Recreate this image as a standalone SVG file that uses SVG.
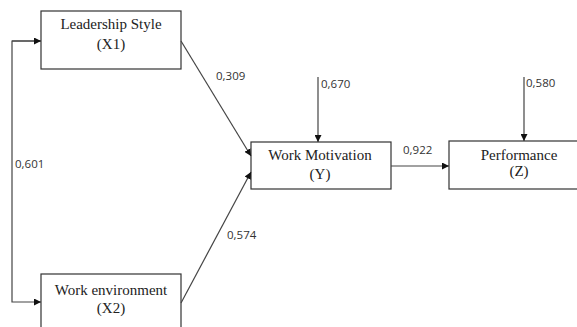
<svg xmlns="http://www.w3.org/2000/svg" width="577" height="327" viewBox="0 0 577 327">
<style>
.box{fill:#fff;stroke:#333;stroke-width:1.2}
.lbl{font-family:"Liberation Serif","Times New Roman",serif;font-size:15px;fill:#222;text-anchor:middle}
.num{font-family:"Open Sans","Liberation Sans",sans-serif;font-size:11.5px;fill:#333}
.ln{fill:none;stroke:#444;stroke-width:1.2}
</style>
<defs>
<marker id="ah" viewBox="0 0 10 10" refX="10" refY="5" markerWidth="7" markerHeight="7" markerUnits="userSpaceOnUse" orient="auto">
<path d="M0,0 L10,5 L0,10 z" fill="#111"/>
</marker>
</defs>
<rect width="577" height="327" fill="#fff"/>
<g id="X1">
<rect class="box" x="41" y="11" width="140" height="58"/>
<text class="lbl" x="111" y="29">Leadership Style</text>
<text class="lbl" x="111" y="49">(X1)</text>
</g>
<g id="X2">
<rect class="box" x="41" y="274" width="140" height="60"/>
<text class="lbl" x="111" y="295">Work environment</text>
<text class="lbl" x="111" y="313">(X2)</text>
</g>
<g id="Y">
<rect class="box" x="251" y="142" width="140" height="47"/>
<text class="lbl" x="320" y="160">Work Motivation</text>
<text class="lbl" x="320" y="179">(Y)</text>
</g>
<g id="Z">
<rect class="box" x="449" y="141" width="140" height="48"/>
<text class="lbl" x="519" y="160">Performance</text>
<text class="lbl" x="519" y="176">(Z)</text>
</g>
<g id="connectors">
<path class="ln" d="M41,41 H12 V302 H41" marker-end="url(#ah)"/>
<path class="ln" d="M12,41 H41" marker-end="url(#ah)"/>
<line class="ln" x1="181" y1="41" x2="251" y2="156" marker-end="url(#ah)"/>
<line class="ln" x1="181" y1="303" x2="251" y2="172" marker-end="url(#ah)"/>
<line class="ln" x1="318" y1="77" x2="318" y2="142" marker-end="url(#ah)"/>
<line class="ln" x1="524" y1="77" x2="524" y2="141" marker-end="url(#ah)"/>
<line class="ln" x1="391" y1="166" x2="449" y2="166" marker-end="url(#ah)"/>
<text class="num" x="216" y="80">0,309</text>
<text class="num" x="227" y="239">0,574</text>
<text class="num" x="15" y="168">0,601</text>
<text class="num" x="403" y="154">0,922</text>
<text class="num" x="321" y="88">0,670</text>
<text class="num" x="526" y="87">0,580</text>
</g>
</svg>
